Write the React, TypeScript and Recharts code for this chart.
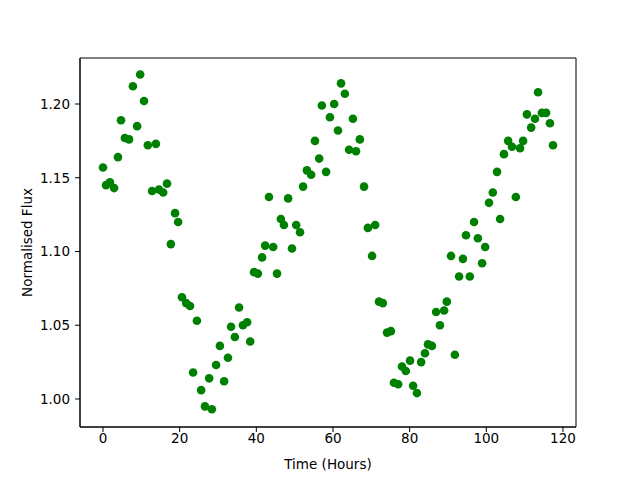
import React from "react";
import { ScatterChart, Scatter, XAxis, YAxis, ReferenceArea } from "recharts";

// time of each sample, in hours
const hours = [
  0.0, 0.8, 1.8, 2.9, 3.9, 4.7, 5.7, 6.8, 7.8, 8.9, 9.7, 10.7, 11.7, 12.8, 13.8,
  14.6, 15.7, 16.7, 17.7, 18.8, 19.6, 20.6, 21.7, 22.7, 23.5, 24.5, 25.6, 26.6,
  27.7, 28.4, 29.5, 30.5, 31.6, 32.6, 33.4, 34.4, 35.5, 36.5, 37.6, 38.4, 39.4,
  40.4, 41.5, 42.3, 43.3, 44.4, 45.4, 46.4, 47.2, 48.3, 49.3, 50.4, 51.4, 52.2,
  53.2, 54.3, 55.3, 56.4, 57.1, 58.2, 59.2, 60.3, 61.3, 62.1, 63.1, 64.2, 65.2,
  66.0, 67.0, 68.1, 69.1, 70.2, 71.0, 72.0, 73.0, 74.1, 75.1, 75.9, 77.0, 78.0,
  79.0, 80.1, 80.9, 81.9, 83.0, 84.0, 84.8, 85.8, 86.9, 87.9, 89.0, 89.7, 90.8,
  91.8, 92.9, 93.9, 94.7, 95.7, 96.8, 97.8, 98.9, 99.7, 100.7, 101.7, 102.8,
  103.6, 104.6, 105.7, 106.7, 107.7, 108.8, 109.6, 110.6, 111.7, 112.7, 113.5,
  114.5, 115.6, 116.6, 117.4,
];

// normalised flux at each sample
const flux = [
  1.157, 1.145, 1.147, 1.143, 1.164, 1.189, 1.177, 1.176, 1.212, 1.185, 1.22,
  1.202, 1.172, 1.141, 1.173, 1.142, 1.14, 1.146, 1.105, 1.126, 1.12, 1.069,
  1.065, 1.063, 1.018, 1.053, 1.006, 0.995, 1.014, 0.993, 1.023, 1.036, 1.012,
  1.028, 1.049, 1.042, 1.062, 1.05, 1.052, 1.039, 1.086, 1.085, 1.096, 1.104,
  1.137, 1.103, 1.085, 1.122, 1.118, 1.136, 1.102, 1.118, 1.113, 1.144, 1.155,
  1.152, 1.175, 1.163, 1.199, 1.154, 1.191, 1.2, 1.182, 1.214, 1.207, 1.169,
  1.19, 1.168, 1.176, 1.144, 1.116, 1.097, 1.118, 1.066, 1.065, 1.045, 1.046,
  1.011, 1.01, 1.022, 1.019, 1.026, 1.009, 1.004, 1.025, 1.031, 1.037, 1.036,
  1.059, 1.05, 1.06, 1.066, 1.097, 1.03, 1.083, 1.095, 1.111, 1.083, 1.12,
  1.109, 1.092, 1.103, 1.133, 1.14, 1.154, 1.122, 1.166, 1.175, 1.171, 1.137,
  1.17, 1.175, 1.193, 1.184, 1.19, 1.208, 1.194, 1.194, 1.187, 1.172,
];

const xTicks = [0, 20, 40, 60, 80, 100, 120];
const yTicks = [1.0, 1.05, 1.1, 1.15, 1.2];

const X_DOMAIN = [-6.0, 123.4];
const Y_DOMAIN = [0.981, 1.2312];

const data = hours.map((h, i) => ({ time: h, flux: flux[i] }));

const font = "DejaVu Sans, sans-serif";
const tickStyle = { fill: "#000", fontSize: 13.5, fontFamily: font };

const Dot = (props: any) => (
  <circle cx={props.cx} cy={props.cy} r={4.3} fill="#008000" />
);

export default function App() {
  return (
    <div style={{ position: "absolute", left: 0, top: 0, background: "#fff" }}>
      <ScatterChart
        width={640}
        height={480}
        margin={{ top: 58, right: 64, bottom: 0, left: 0 }}
      >
        <XAxis
          type="number"
          dataKey="time"
          domain={X_DOMAIN}
          ticks={xTicks}
          allowDataOverflow
          height={53}
          stroke="#000"
          tickSize={5}
          tickMargin={1}
          tick={tickStyle}
          label={{
            value: "Time (Hours)",
            position: "insideBottom",
            offset: 11,
            fill: "#000",
            fontSize: 13.5,
            fontFamily: font,
          }}
        />
        <YAxis
          type="number"
          dataKey="flux"
          domain={Y_DOMAIN}
          ticks={yTicks}
          allowDataOverflow
          width={80}
          stroke="#000"
          tickSize={5}
          tickMargin={5}
          tick={tickStyle}
          tickFormatter={(v: number) => v.toFixed(2)}
          label={{
            value: "Normalised Flux",
            angle: -90,
            position: "insideLeft",
            offset: 27,
            style: { textAnchor: "middle" },
            fill: "#000",
            fontSize: 13.5,
            fontFamily: font,
          }}
        />
        <ReferenceArea
          x1={X_DOMAIN[0]}
          x2={X_DOMAIN[1]}
          y1={Y_DOMAIN[0]}
          y2={Y_DOMAIN[1]}
          fill="none"
          stroke="#000"
          strokeWidth={1}
          ifOverflow="visible"
        />
        <Scatter data={data} shape={Dot} isAnimationActive={false} />
      </ScatterChart>
    </div>
  );
}
